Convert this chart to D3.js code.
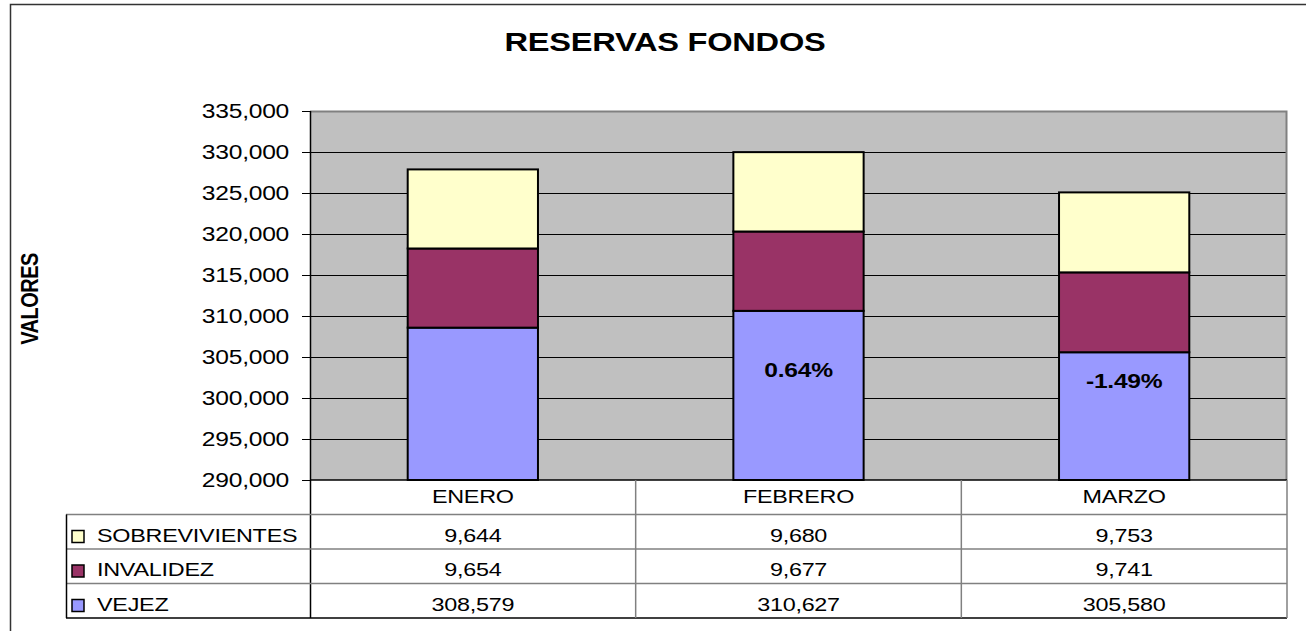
<!DOCTYPE html>
<html>
<head>
<meta charset="utf-8">
<script src="https://cdn.jsdelivr.net/npm/d3@7"></script>
<style>
  body { margin: 0; background: #fff; }
  svg { display: block; font-family: "Liberation Sans", Arial, sans-serif; }
</style>
</head>
<body>
<div id="chart"></div>
<script>
// data
var months = ["ENERO", "FEBRERO", "MARZO"];
var seriesNames = ["VEJEZ", "INVALIDEZ", "SOBREVIVIENTES"];
var vejez = [308579, 310627, 305580];
var invalidez = [9654, 9677, 9741];
var sobrevivientes = [9644, 9680, 9753];
var seriesColors = ["#9999FF", "#993366", "#FFFFCC"];
var yTicks = [290000, 295000, 300000, 305000, 310000, 315000, 320000, 325000, 330000, 335000];
var changeLabels = ["", "0.64%", "-1.49%"];
var changeLabelAt = [0, 303400, 302050];

var width = 1306, height = 631;
var margin = {top: 111, left: 310, right: 19, bottom: 151};
var plotW = width - margin.left - margin.right;
var plotH = height - margin.top - margin.bottom;
var stretch = 1.23; // the source text is drawn wider than normal

// text that is stretched horizontally like the original
function wideText(sel, x, y, str, size, anchor, bold) {
    return sel.append("text")
        .attr("transform", "translate(" + x + "," + y + ") scale(" + stretch + ",1)")
        .attr("text-anchor", anchor || "start")
        .attr("font-size", size)
        .attr("font-weight", bold ? "bold" : "normal")
        .attr("letter-spacing", -0.2)
        .text(str);
}

var svg = d3.select("#chart").append("svg")
    .attr("width", width)
    .attr("height", height);

// outer frame (cut off at right and bottom)
svg.append("rect")
    .attr("x", 10.5).attr("y", 4.5)
    .attr("width", 1400).attr("height", 700)
    .attr("fill", "none").attr("stroke", "#333").attr("stroke-width", 1.5);

wideText(svg, 665, 51, "RESERVAS FONDOS", 26.5, "middle", true);

svg.append("text")
    .attr("transform", "translate(38,299) rotate(-90) scale(1,1.15)")
    .attr("text-anchor", "middle")
    .attr("font-size", 20).attr("font-weight", "bold")
    .attr("letter-spacing", -0.5)
    .text("VALORES");

var x = d3.scaleBand().domain(months).range([0, plotW]).paddingInner(0.6).paddingOuter(0.3);
var xCol = d3.scaleBand().domain(months).range([0, plotW]);
var y = d3.scaleLinear().domain([290000, 335000]).range([plotH, 0]);

var g = svg.append("g").attr("transform", "translate(" + margin.left + "," + margin.top + ")");

g.append("rect")
    .attr("width", plotW).attr("height", plotH)
    .attr("fill", "#C0C0C0");

// gridlines
g.selectAll(".grid").data(yTicks.slice(1, -1)).enter().append("line")
    .attr("x1", 0).attr("x2", plotW)
    .attr("y1", function (d) { return Math.round(y(d)) + 0.5; })
    .attr("y2", function (d) { return Math.round(y(d)) + 0.5; })
    .attr("stroke", "#000").attr("stroke-width", 1);

// plot border top/right
g.append("path")
    .attr("d", "M0,0.5H" + (plotW - 0.5) + "V" + plotH)
    .attr("fill", "none").attr("stroke", "#808080").attr("stroke-width", 2);

// stacked bars
var rows = months.map(function (m, i) {
    return {month: m, VEJEZ: vejez[i], INVALIDEZ: invalidez[i], SOBREVIVIENTES: sobrevivientes[i]};
});
var stack = d3.stack().keys(seriesNames)(rows);

g.selectAll(".layer").data(stack).enter().append("g")
    .attr("fill", function (d, i) { return seriesColors[i]; })
    .selectAll("rect").data(function (d) { return d; }).enter().append("rect")
    .attr("x", function (d) { return x(d.data.month); })
    .attr("y", function (d) { return y(Math.max(d[1], 290000)); })
    .attr("width", x.bandwidth())
    .attr("height", function (d) { return y(Math.max(d[0], 290000)) - y(Math.max(d[1], 290000)); })
    .attr("stroke", "#000").attr("stroke-width", 2);

// change labels
months.forEach(function (m, i) {
    if (changeLabels[i]) {
        wideText(g, x(m) + x.bandwidth() / 2, y(changeLabelAt[i]) + 7, changeLabels[i], 20, "middle", true);
    }
});

// y axis
var yAxis = g.append("g")
    .call(d3.axisLeft(y).tickValues(yTicks).tickSize(8).tickPadding(12).tickFormat(d3.format(",")));
yAxis.select(".domain").remove();
yAxis.selectAll("text")
    .attr("font-size", 20).attr("fill", "#000")
    .attr("font-family", "\"Liberation Sans\", Arial, sans-serif")
    .attr("letter-spacing", -0.2)
    .attr("x", -21 / stretch)
    .attr("transform", "scale(" + stretch + ",1)");
yAxis.selectAll(".tick line").attr("stroke", "#000");

g.append("line").attr("x1", 0.5).attr("x2", 0.5).attr("y1", 0).attr("y2", plotH + 138)
    .attr("stroke", "#000").attr("stroke-width", 1.5);
g.append("line").attr("x1", 0).attr("x2", plotW).attr("y1", plotH).attr("y2", plotH)
    .attr("stroke", "#000").attr("stroke-width", 1.5);

// data table
var rowH = 34.5;
var tableLeft = 66 - margin.left;
var tableRows = [
    {name: "SOBREVIVIENTES", values: sobrevivientes, color: seriesColors[2]},
    {name: "INVALIDEZ", values: invalidez, color: seriesColors[1]},
    {name: "VEJEZ", values: vejez, color: seriesColors[0]}
];
var fmt = d3.format(",");

var table = g.append("g").attr("transform", "translate(0," + plotH + ")");

// month header
months.forEach(function (m) {
    wideText(table, xCol(m) + xCol.bandwidth() / 2, 23, m, 19, "middle");
});

// horizontal lines
[1, 2, 3].forEach(function (k) {
    table.append("line")
        .attr("x1", tableLeft).attr("x2", plotW)
        .attr("y1", k * rowH).attr("y2", k * rowH)
        .attr("stroke", "#808080").attr("stroke-width", 1.5);
});
table.append("line")
    .attr("x1", tableLeft).attr("x2", plotW)
    .attr("y1", 4 * rowH).attr("y2", 4 * rowH)
    .attr("stroke", "#000").attr("stroke-width", 1.5);
table.append("line")
    .attr("x1", tableLeft + 0.5).attr("x2", tableLeft + 0.5)
    .attr("y1", rowH).attr("y2", 4 * rowH)
    .attr("stroke", "#000").attr("stroke-width", 1.5);

// vertical lines
months.forEach(function (m) {
    table.append("line")
        .attr("x1", xCol(m) + xCol.bandwidth()).attr("x2", xCol(m) + xCol.bandwidth())
        .attr("y1", 0).attr("y2", 4 * rowH)
        .attr("stroke", "#808080").attr("stroke-width", 1.5);
});

tableRows.forEach(function (r, i) {
    var top = rowH * (i + 1);
    table.append("rect")
        .attr("x", tableLeft + 6).attr("y", top + 16)
        .attr("width", 12).attr("height", 12)
        .attr("fill", r.color)
        .attr("stroke", "#000").attr("stroke-width", 1.5);
    wideText(table, tableLeft + 31, top + 27, r.name, 19, "start");
    r.values.forEach(function (v, j) {
        wideText(table, xCol(months[j]) + xCol.bandwidth() / 2, top + 27, fmt(v), 19, "middle");
    });
});
</script>
</body>
</html>
